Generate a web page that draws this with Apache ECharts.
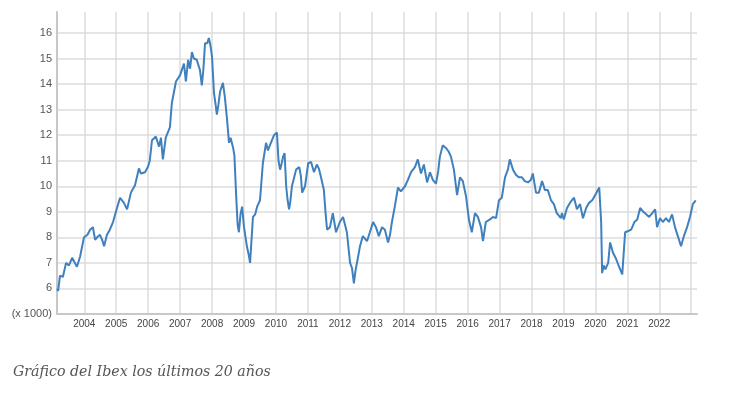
<!DOCTYPE html>
<html>
<head>
<meta charset="utf-8">
<script src="https://cdn.jsdelivr.net/npm/echarts@6/dist/echarts.min.js"></script>
<style>
  html, body { margin: 0; padding: 0; background: #fff; }
  #chart { width: 739px; height: 399px; }
</style>
</head>
<body>
<div id="chart"></div>
<script>
// Ibex 35 (x 1000) at decimal years
var years = [
  2003.15, 2003.18, 2003.24, 2003.33, 2003.43, 2003.52, 2003.62, 2003.77, 2003.87, 2003.93,
  2003.99, 2004.10, 2004.18, 2004.27, 2004.34, 2004.40, 2004.49, 2004.56, 2004.62, 2004.71,
  2004.80, 2004.90, 2004.99, 2005.12, 2005.24, 2005.34, 2005.46, 2005.59, 2005.71, 2005.77,
  2005.90, 2005.99, 2006.05, 2006.12, 2006.24, 2006.34, 2006.40, 2006.46, 2006.55, 2006.68,
  2006.74, 2006.87, 2007.00, 2007.12, 2007.18, 2007.25, 2007.31, 2007.37, 2007.43, 2007.52,
  2007.62, 2007.68, 2007.73, 2007.78, 2007.85, 2007.90, 2007.95, 2008.00, 2008.06, 2008.11,
  2008.15, 2008.20, 2008.25, 2008.34, 2008.40, 2008.47, 2008.53, 2008.58, 2008.66, 2008.70,
  2008.75, 2008.80, 2008.84, 2008.89, 2008.94, 2009.00, 2009.09, 2009.15, 2009.19, 2009.24,
  2009.28, 2009.35, 2009.41, 2009.50, 2009.59, 2009.69, 2009.75, 2009.81, 2009.94, 2010.03,
  2010.08, 2010.13, 2010.18, 2010.22, 2010.27, 2010.32, 2010.36, 2010.41, 2010.45, 2010.50,
  2010.63, 2010.73, 2010.78, 2010.82, 2010.91, 2011.01, 2011.10, 2011.19, 2011.28, 2011.34,
  2011.41, 2011.50, 2011.55, 2011.60, 2011.69, 2011.78, 2011.88, 2012.00, 2012.10, 2012.16,
  2012.22, 2012.32, 2012.38, 2012.44, 2012.49, 2012.54, 2012.58, 2012.63, 2012.72, 2012.85,
  2012.94, 2013.04, 2013.13, 2013.22, 2013.32, 2013.41, 2013.51, 2013.57, 2013.63, 2013.72,
  2013.82, 2013.91, 2014.04, 2014.13, 2014.23, 2014.35, 2014.44, 2014.54, 2014.63, 2014.73,
  2014.82, 2014.91, 2015.01, 2015.08, 2015.13, 2015.22, 2015.32, 2015.41, 2015.48, 2015.57,
  2015.67, 2015.76, 2015.85, 2015.95, 2016.04, 2016.13, 2016.23, 2016.32, 2016.42, 2016.48,
  2016.57, 2016.70, 2016.79, 2016.89, 2016.98, 2017.07, 2017.17, 2017.26, 2017.32, 2017.42,
  2017.51, 2017.60, 2017.70, 2017.79, 2017.89, 2017.98, 2018.04, 2018.14, 2018.23, 2018.33,
  2018.42, 2018.51, 2018.61, 2018.70, 2018.79, 2018.92, 2018.95, 2019.01, 2019.11, 2019.23,
  2019.33, 2019.42, 2019.52, 2019.61, 2019.71, 2019.80, 2019.90, 2019.99, 2020.05, 2020.12,
  2020.18, 2020.21, 2020.26, 2020.31, 2020.40, 2020.46, 2020.55, 2020.65, 2020.74, 2020.84,
  2020.93, 2021.03, 2021.12, 2021.22, 2021.31, 2021.40, 2021.50, 2021.59, 2021.68, 2021.78,
  2021.87, 2021.93, 2022.02, 2022.11, 2022.21, 2022.30, 2022.40, 2022.49, 2022.58, 2022.68,
  2022.77, 2022.87, 2022.96, 2023.05, 2023.14
];
var ibex = [
  6.0, 5.9, 6.5, 6.45, 7.0, 6.9, 7.2, 6.85, 7.25, 7.3,
  8.0, 8.1, 8.3, 8.4, 7.9, 8.0, 8.1, 7.9, 7.65, 8.1,
  8.3, 8.6, 9.0, 9.55, 9.35, 9.1, 9.75, 10.05, 10.7, 10.5,
  10.55, 10.75, 11.0, 11.8, 11.95, 11.55, 11.9, 11.05, 11.9, 12.3,
  13.25, 14.1, 14.35, 14.8, 14.1, 14.95, 14.6, 15.25, 15.0, 14.95,
  14.55, 13.95, 14.6, 15.6, 15.6, 15.8, 15.5, 15.05, 13.65, 13.2,
  12.8, 13.2, 13.7, 14.05, 13.5, 12.6, 11.7, 11.9, 11.5, 11.2,
  9.75, 8.5, 8.2, 8.9, 9.2, 8.4, 7.65, 7.3, 7.0, 8.0,
  8.8, 8.9, 9.2, 9.45, 10.9, 11.7, 11.4, 11.6, 12.0, 12.1,
  11.0, 10.65, 10.9, 11.15, 11.3, 10.0, 9.5, 9.1, 9.4, 10.0,
  10.65, 10.75, 10.4, 9.75, 10.0, 10.9, 10.95, 10.55, 10.85, 10.7,
  10.35, 9.85, 9.0, 8.3, 8.4, 8.95, 8.2, 8.6, 8.8, 8.5,
  8.2, 7.0, 6.8, 6.2, 6.7, 6.75, 7.3, 7.65, 8.05, 7.85,
  8.2, 8.6, 8.4, 8.05, 8.4, 8.3, 7.8, 8.1, 8.6, 9.2,
  9.95, 9.8, 10.0, 10.25, 10.55, 10.75, 11.05, 10.5, 10.85, 10.15,
  10.55, 10.25, 10.1, 10.6, 11.15, 11.6, 11.5, 11.35, 11.15, 10.65,
  9.65, 10.35, 10.2, 9.6, 8.7, 8.2, 8.95, 8.8, 8.4, 7.85,
  8.6, 8.7, 8.8, 8.75, 9.45, 9.55, 10.35, 10.65, 11.05, 10.65,
  10.45, 10.35, 10.35, 10.2, 10.15, 10.25, 10.5, 9.75, 9.75, 10.2,
  9.85, 9.85, 9.45, 9.3, 8.95, 8.75, 8.95, 8.7, 9.15, 9.4,
  9.55, 9.1, 9.3, 8.75, 9.15, 9.35, 9.45, 9.65, 9.6, 9.95,
  8.6, 6.6, 6.9, 6.75, 7.0, 7.8, 7.4, 7.15, 6.85, 6.55,
  8.2, 8.25, 8.3, 8.6, 8.7, 9.15, 9.0, 8.9, 8.8, 8.95,
  9.1, 8.4, 8.75, 8.6, 8.75, 8.6, 8.9, 8.4, 8.05, 7.65,
  8.05, 8.4, 8.8, 9.3, 9.45
];
var yearTicks = [2004, 2005, 2006, 2007, 2008, 2009, 2010, 2011, 2012, 2013,
  2014, 2015, 2016, 2017, 2018, 2019, 2020, 2021, 2022, 2023];
var yearLabels = [2004, 2005, 2006, 2007, 2008, 2009, 2010, 2011, 2012, 2013,
  2014, 2015, 2016, 2017, 2018, 2019, 2020, 2021, 2022];
var valueTicks = [5, 6, 7, 8, 9, 10, 11, 12, 13, 14, 15, 16];
var caption = 'Gráfico del Ibex los últimos 20 años';

var points = years.map(function (y, i) { return [y, ibex[i]]; });

var chart = echarts.init(document.getElementById('chart'));
chart.setOption({
  animation: false,
  title: {
    text: caption,
    left: 8,
    top: 360,
    textStyle: {
      fontFamily: 'DejaVu Serif',
      fontStyle: 'italic',
      fontWeight: 'normal',
      fontSize: 14.2,
      color: '#555'
    }
  },
  grid: { left: 57, right: 42, top: 12, bottom: 85 },
  xAxis: {
    type: 'value',
    min: 2003.146,
    max: 2023.18,
    axisLine: { show: true, lineStyle: { color: '#c8c8c8', width: 2 } },
    axisTick: { show: false, customValues: yearTicks },
    axisLabel: {
      customValues: yearLabels,
      color: '#444',
      fontFamily: 'Liberation Sans',
      fontSize: 10,
      margin: 5,
      formatter: function (v) { return String(v); }
    },
    splitLine: { show: true, lineStyle: { color: '#dcdcdc', width: 1.5 } }
  },
  yAxis: {
    type: 'value',
    min: 5,
    max: 16.82,
    axisLine: { show: true, lineStyle: { color: '#c8c8c8', width: 2 } },
    axisTick: { show: false, customValues: valueTicks },
    axisLabel: {
      customValues: valueTicks,
      color: '#555',
      fontFamily: 'Liberation Sans',
      fontSize: 11,
      margin: 5,
      formatter: function (v) { return v === 5 ? '(x 1000)' : String(v); }
    },
    splitLine: { show: true, lineStyle: { color: '#dcdcdc', width: 1.5 } }
  },
  series: [{
    type: 'line',
    data: points,
    showSymbol: false,
    lineStyle: { color: '#3f80bd', width: 2 },
    itemStyle: { color: '#3f80bd' }
  }]
});
</script>
</body>
</html>
